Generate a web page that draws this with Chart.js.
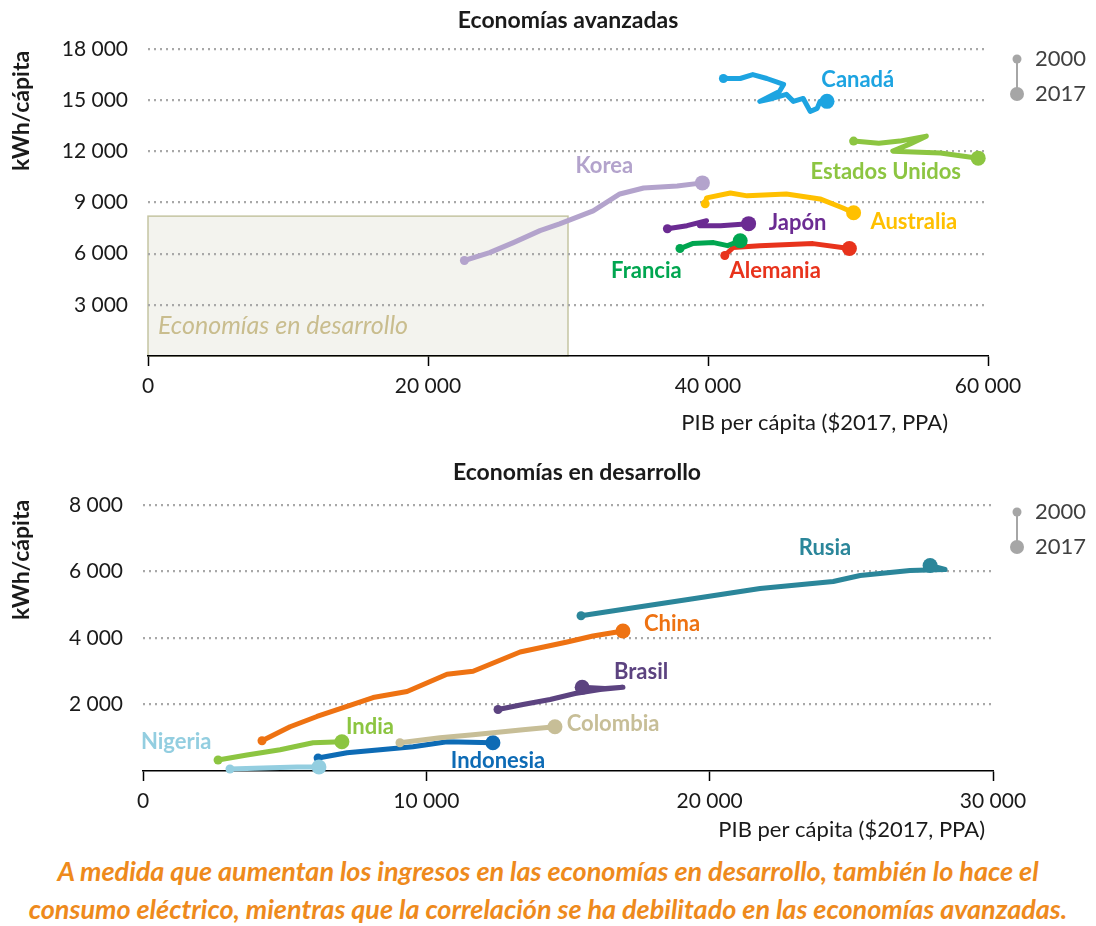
<!DOCTYPE html>
<html lang="es">
<head>
<meta charset="utf-8">
<script src="https://cdn.jsdelivr.net/npm/chart.js@4.4.1/dist/chart.umd.min.js"></script>
<style>
  html, body { margin: 0; padding: 0; background: #fff; }
  #wrap { position: relative; width: 1096px; height: 926px; }
  #top { position: absolute; left: 0; top: 0; }
  #bottom { position: absolute; left: 0; top: 445px; }
  #caption {
    position: absolute; left: 0; top: 852px; width: 1096px;
    text-align: center; font-family: Lato, sans-serif; font-style: italic; font-weight: bold;
    font-size: 27px; line-height: 38px; color: #EE8A1C;
  }
</style>
</head>
<body>
<div id="wrap">
  <canvas id="top" width="1096" height="445"></canvas>
  <canvas id="bottom" width="1096" height="405"></canvas>
  <div id="caption">A medida que aumentan los ingresos en las economías en desarrollo, también lo hace el<br>consumo eléctrico, mientras que la correlación se ha debilitado en las economías avanzadas.</div>
</div>
<script>
// --- Economías avanzadas (PIB per cápita $2017 PPA, kWh/cápita), 2000 -> 2017
const canadaGdp = [41100, 42300, 43200, 44200, 45400, 45100, 43700, 44600, 45600, 46100, 46800, 47300, 47800, 48000, 48500];
const canadaKwh = [16270, 16270, 16500, 16270, 15920, 15510, 14930, 15100, 15340, 14930, 15100, 14340, 14520, 14930, 14930];
const usaGdp = [50400, 52200, 53700, 55600, 54400, 53200, 56600, 59300];
const usaKwh = [12600, 12480, 12600, 12890, 12420, 12010, 11900, 11600];
const koreaGdp = [22600, 24400, 26100, 28000, 29400, 31800, 33700, 35400, 37800, 39600];
const koreaKwh = [5600, 6060, 6650, 7350, 7750, 8510, 9500, 9850, 9970, 10150];
const australiaGdp = [39800, 39900, 41600, 42800, 45600, 48000, 49600, 50400];
const australiaKwh = [8920, 9270, 9560, 9390, 9500, 9210, 8690, 8400];
const japanGdp = [37100, 38500, 39900, 39400, 40900, 42900];
const japanKwh = [7460, 7640, 7930, 7640, 7640, 7760];
const franceGdp = [38000, 38900, 40400, 41400, 42300];
const franceKwh = [6300, 6590, 6650, 6470, 6760];
const germanyGdp = [41200, 41800, 43700, 47500, 50100];
const germanyKwh = [5890, 6360, 6470, 6590, 6300];

// --- Economías en desarrollo
const russiaGdp = [15460, 17080, 19410, 21780, 24360, 25310, 27070, 28310, 27780];
const russiaKwh = [4670, 4880, 5180, 5490, 5700, 5880, 6030, 6060, 6180];
const chinaGdp = [4200, 5190, 6140, 7200, 8120, 9320, 10730, 11650, 13310, 14970, 15880, 16940];
const chinaKwh = [910, 1330, 1640, 1940, 2210, 2390, 2910, 3000, 3580, 3880, 4060, 4210];
const brazilGdp = [12530, 13410, 14370, 15250, 16130, 16940, 16310, 15500];
const brazilKwh = [1850, 2000, 2150, 2330, 2450, 2520, 2480, 2520];
const colombiaGdp = [9070, 10480, 11650, 13410, 14540];
const colombiaKwh = [850, 1000, 1090, 1240, 1330];
const indiaGdp = [2650, 3670, 4840, 6000, 7020];
const indiaKwh = [330, 480, 640, 850, 880];
const nigeriaGdp = [3070, 4240, 5440, 6210];
const nigeriaKwh = [60, 90, 120, 120];
const indonesiaGdp = [6180, 7200, 8370, 9530, 10730, 12350];
const indonesiaKwh = [390, 550, 640, 730, 880, 850];

const topXTicks = [0, 20000, 40000, 60000];
const topYTicks = [3000, 6000, 9000, 12000, 15000, 18000];
const bottomXTicks = [0, 10000, 20000, 30000];
const bottomYTicks = [2000, 4000, 6000, 8000];

const FONT = 'Lato, "Open Sans", sans-serif';
const fmt = v => String(v).replace(/\B(?=(\d{3})+(?!\d))/g, ' ');

function series(label, xs, ys, color) {
  const last = xs.length - 1;
  const r = c => c.dataIndex === 0 ? 4.5 : (c.dataIndex === last ? 7.5 : 0);
  return {
    label, data: xs.map((x, i) => ({ x, y: ys[i] })),
    borderColor: color, backgroundColor: color, borderWidth: 5,
    showLine: true, tension: 0, clip: false,
    borderCapStyle: 'round', borderJoinStyle: 'round',
    pointRadius: r, pointHoverRadius: r, pointBorderWidth: 0
  };
}

// text, legend and shaded box drawn on top of the scales
function overlay(cfg) {
  return {
    id: 'overlay',
    beforeDraw(chart) {
      if (!cfg.box) return;
      const { ctx, scales: { x, y } } = chart;
      const x0 = x.getPixelForValue(cfg.box.x0), x1 = x.getPixelForValue(cfg.box.x1);
      const y0 = y.getPixelForValue(0), y1 = y.getPixelForValue(cfg.box.top);
      ctx.save();
      ctx.fillStyle = '#F3F3EE';
      ctx.strokeStyle = '#C5C5A2';
      ctx.lineWidth = 1.5;
      ctx.fillRect(x0, y1, x1 - x0, y0 - y1);
      ctx.strokeRect(x0, y1, x1 - x0, y0 - y1);
      ctx.font = 'italic 25px ' + FONT;
      ctx.fillStyle = '#C9BD8E';
      ctx.textBaseline = 'middle';
      ctx.fillText(cfg.box.text, x0 + 10, y0 - 30);
      ctx.restore();
    },
    afterDraw(chart) {
      const { ctx, scales: { x, y } } = chart;
      ctx.save();
      ctx.textBaseline = 'middle';
      // title
      ctx.fillStyle = '#1a1a1a';
      ctx.font = 'bold 23px ' + FONT;
      ctx.textAlign = 'center';
      ctx.fillText(cfg.title, cfg.titleX, cfg.titleY);
      // axis titles
      ctx.font = 'bold 23px ' + FONT;
      ctx.save();
      ctx.translate(22, cfg.yTitleY);
      ctx.rotate(-Math.PI / 2);
      ctx.fillText('kWh/cápita', 0, 0);
      ctx.restore();
      ctx.font = '22px ' + FONT;
      ctx.textAlign = 'right';
      ctx.fillText('PIB per cápita ($2017, PPA)', cfg.xTitleRight, cfg.xTitleY);
      // country labels
      ctx.font = 'bold 22px ' + FONT;
      ctx.textAlign = 'center';
      cfg.labels.forEach(l => {
        ctx.fillStyle = l.color;
        ctx.fillText(l.text, x.getPixelForValue(l.at[0]), y.getPixelForValue(l.at[1]));
      });
      // legend 2000 / 2017
      const lx = 1017, ly0 = cfg.legendY, ly1 = cfg.legendY + 35;
      ctx.strokeStyle = '#A6A6A6';
      ctx.fillStyle = '#A6A6A6';
      ctx.lineWidth = 2;
      ctx.beginPath(); ctx.moveTo(lx, ly0); ctx.lineTo(lx, ly1); ctx.stroke();
      ctx.beginPath(); ctx.arc(lx, ly0, 4.5, 0, Math.PI * 2); ctx.fill();
      ctx.beginPath(); ctx.arc(lx, ly1, 7, 0, Math.PI * 2); ctx.fill();
      ctx.fillStyle = '#404040';
      ctx.font = '22px ' + FONT;
      ctx.textAlign = 'left';
      ctx.fillText('2000', 1035, ly0);
      ctx.fillText('2017', 1035, ly1);
      ctx.restore();
    }
  };
}

function makeChart(id, datasets, o) {
  return new Chart(document.getElementById(id), {
    type: 'scatter',
    data: { datasets },
    options: {
      responsive: false, animation: false, events: [],
      layout: { padding: { left: 0, right: o.padRight, top: o.padTop, bottom: 0 } },
      plugins: { legend: { display: false }, tooltip: { enabled: false }, title: { display: false } },
      scales: {
        x: {
          type: 'linear', min: o.xTicks[0], max: o.xTicks[o.xTicks.length - 1],
          afterFit: s => { s.height = o.xHeight; },
          afterBuildTicks: s => { s.ticks = o.xTicks.map(value => ({ value })); },
          grid: { drawOnChartArea: false, drawTicks: true, tickLength: 10, tickColor: '#000', tickWidth: 1.5 },
          border: { display: true, color: '#000', width: 1.5 },
          ticks: { color: '#1a1a1a', font: { family: FONT, size: 21 }, padding: 8, maxRotation: 0, callback: v => fmt(v) }
        },
        y: {
          type: 'linear', min: 0, max: o.yTicks[o.yTicks.length - 1],
          afterFit: s => { s.width = o.yWidth; },
          afterBuildTicks: s => { s.ticks = o.yTicks.map(value => ({ value })); },
          grid: { color: '#A8A8A8', lineWidth: 2.2, drawTicks: false },
          border: { display: false, dash: [2, 4] },
          ticks: { color: '#1a1a1a', font: { family: FONT, size: 21 }, padding: 20, callback: v => fmt(v) }
        }
      }
    },
    plugins: [overlay(o)]
  });
}

makeChart('top', [
  series('Canadá', canadaGdp, canadaKwh, '#1DA4E1'),
  series('Estados Unidos', usaGdp, usaKwh, '#8CC541'),
  series('Korea', koreaGdp, koreaKwh, '#B3A3CC'),
  series('Australia', australiaGdp, australiaKwh, '#FFC000'),
  series('Japón', japanGdp, japanKwh, '#6B2B92'),
  series('Francia', franceGdp, franceKwh, '#00A650'),
  series('Alemania', germanyGdp, germanyKwh, '#E8331C')
], {
  xTicks: topXTicks, yTicks: topYTicks, padRight: 108, padTop: 49, xHeight: 89, yWidth: 148,
  title: 'Economías avanzadas', titleX: 568, titleY: 21,
  yTitleY: 111, xTitleRight: 948, xTitleY: 423, legendY: 59,
  box: { x0: 0, x1: 30000, top: 8200, text: 'Economías en desarrollo' },
  labels: [
    { text: 'Canadá', at: [50700, 16190], color: '#1DA4E1' },
    { text: 'Estados Unidos', at: [52700, 10800], color: '#8CC541' },
    { text: 'Korea', at: [32600, 11150], color: '#B3A3CC' },
    { text: 'Australia', at: [54700, 7880], color: '#FFC000' },
    { text: 'Japón', at: [46400, 7820], color: '#6B2B92' },
    { text: 'Francia', at: [35600, 5010], color: '#00A650' },
    { text: 'Alemania', at: [44800, 5010], color: '#E8331C' }
  ]
});

makeChart('bottom', [
  series('Rusia', russiaGdp, russiaKwh, '#2B869A'),
  series('China', chinaGdp, chinaKwh, '#EE7212'),
  series('Brasil', brazilGdp, brazilKwh, '#5C4380'),
  series('Colombia', colombiaGdp, colombiaKwh, '#C7BE97'),
  series('India', indiaGdp, indiaKwh, '#8CC541'),
  series('Nigeria', nigeriaGdp, nigeriaKwh, '#93CEE0'),
  series('Indonesia', indonesiaGdp, indonesiaKwh, '#0D6BB5')
], {
  xTicks: bottomXTicks, yTicks: bottomYTicks, padRight: 103, padTop: 60, xHeight: 79, yWidth: 143,
  title: 'Economías en desarrollo', titleX: 577, titleY: 28,
  yTitleY: 115, xTitleRight: 985, xTitleY: 385, legendY: 67,
  labels: [
    { text: 'Rusia', at: [24070, 6710], color: '#2B869A' },
    { text: 'China', at: [18670, 4420], color: '#EE7212' },
    { text: 'Brasil', at: [17580, 2980], color: '#5C4380' },
    { text: 'Colombia', at: [16590, 1410], color: '#C7BE97' },
    { text: 'India', at: [8010, 1320], color: '#8CC541' },
    { text: 'Nigeria', at: [1170, 870], color: '#93CEE0' },
    { text: 'Indonesia', at: [12530, 300], color: '#0D6BB5' }
  ]
});
</script>
</body>
</html>
